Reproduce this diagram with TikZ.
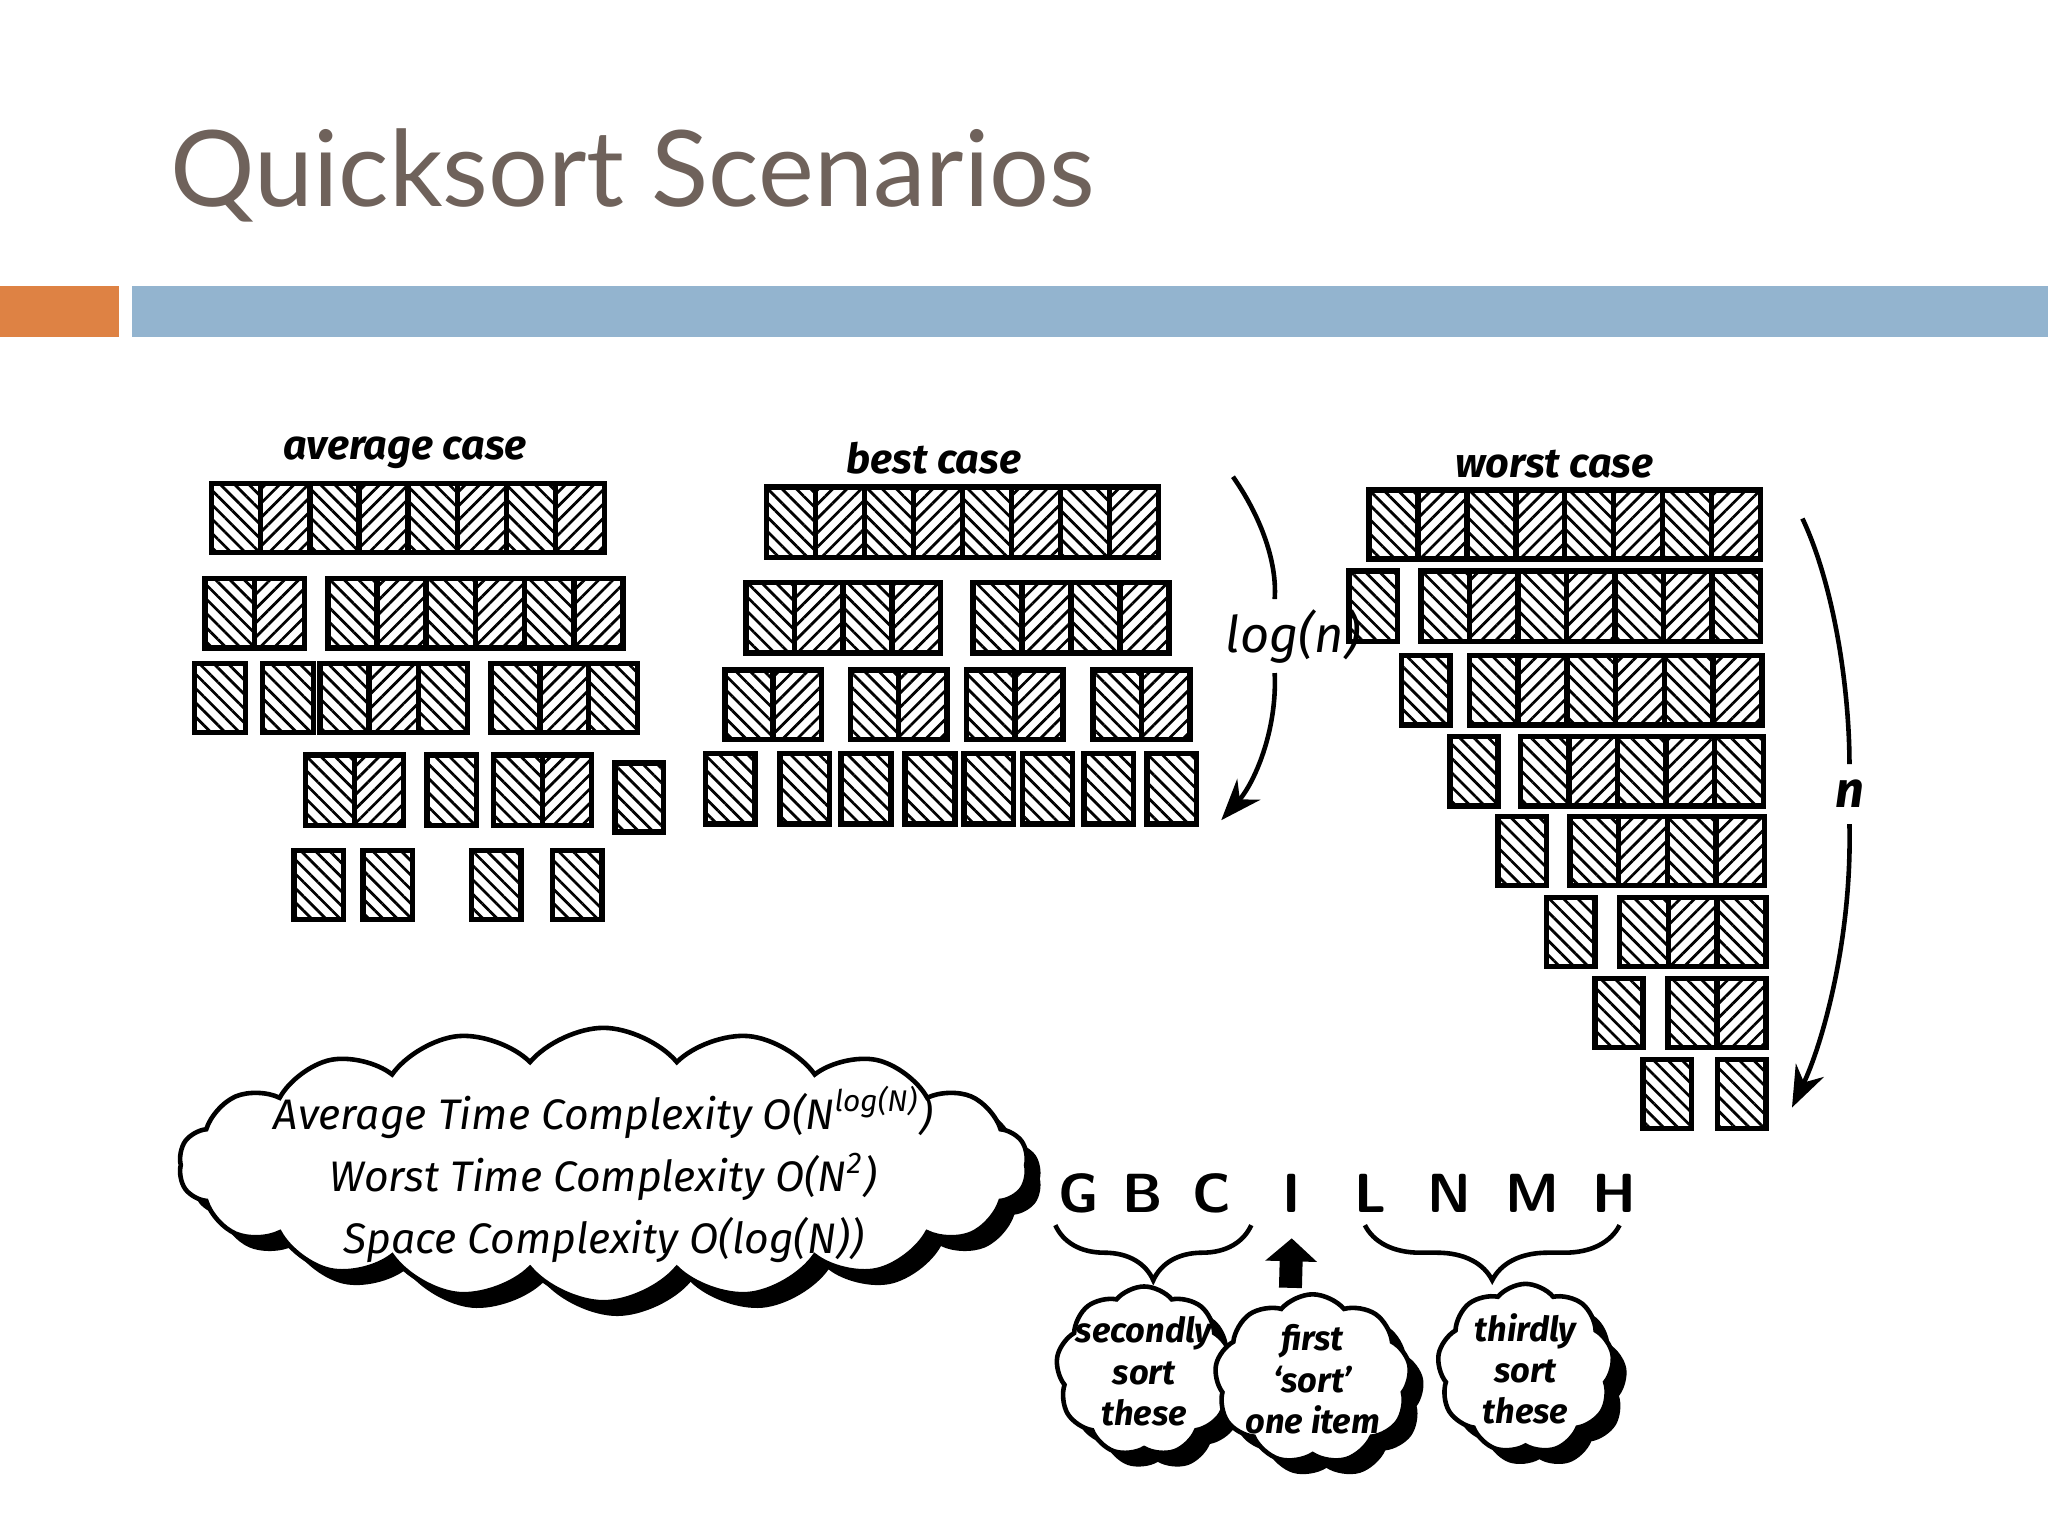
\documentclass[tikz,border=0pt]{standalone}
\usepackage{fontspec}
\setmainfont{Fira Sans}
\usetikzlibrary{patterns.meta,shapes.symbols,shadows,decorations.pathreplacing,arrows.meta}
\definecolor{titlec}{HTML}{6F625B}
\definecolor{orng}{HTML}{DE8244}
\definecolor{blu}{HTML}{93B4CF}
\newcommand\grp[5]{%
\foreach \i [evaluate=\i as \xa using #1+(\i-1)*(#2-#1)/#5, evaluate=\i as \xb using #1+\i*(#2-#1)/#5] in {1,...,#5}{%
\ifodd\i
\draw[line width=1.2pt,pattern={Lines[angle=-45,distance=2.2pt,line width=0.6pt]}] (\xa,#3) rectangle (\xb,#4);
\else
\draw[line width=1.2pt,pattern={Lines[angle=45,distance=2.2pt,line width=0.6pt]}] (\xa,#3) rectangle (\xb,#4);
\fi}}
\tikzset{lab/.style={font=\bfseries\itshape\fontsize{9}{11}\selectfont},
 cl/.style={cloud,cloud puffs=11,cloud puff arc=100,draw,line width=1pt,fill=white,drop shadow={shadow xshift=3pt,shadow yshift=-3pt,fill=black,opacity=1},inner sep=0pt},
 ct/.style={align=center,inner sep=0pt},
 let/.style={font=\bfseries\sffamily\fontsize{12}{14}\selectfont}}
\begin{document}
\begin{tikzpicture}[x=0.01cm,y=-0.01cm]
\useasboundingbox (0,0) rectangle (1568,1176);
\fill[white] (0,0) rectangle (1568,1176);
\node[anchor=base west,text=titlec,font=\fontsize{23}{28}\selectfont\fontspec{Lato}] (title) at (118,158) {Quicksort Scenarios};
\fill[orng] (0,219) rectangle (91,258);
\fill[blu] (101,219) rectangle (1568,258);
% average
\node[lab] (la) at (310,347) {average case};
\grp{162}{463}{370}{423}{8}
\grp{157}{233}{443}{496}{2}\grp{251}{477}{443}{496}{6}
\grp{149}{188}{508}{561}{1}\grp{201}{240}{508}{561}{1}\grp{245}{358}{508}{561}{3}\grp{376}{488}{508}{561}{3}
\grp{234}{309}{578}{632}{2}\grp{327}{365}{578}{632}{1}\grp{378}{453}{578}{632}{2}\grp{471}{508}{584}{637}{1}
\grp{225}{263}{651}{704}{1}\grp{278}{316}{651}{704}{1}\grp{361}{399}{651}{704}{1}\grp{423}{461}{651}{704}{1}
% best
\node[lab] (lb) at (715,351) {best case};
\grp{587}{887}{373}{427}{8}
\grp{571}{720}{446}{500}{4}\grp{745}{895}{446}{500}{4}
\grp{555}{629}{513}{566}{2}\grp{651}{725}{513}{566}{2}\grp{740}{814}{513}{566}{2}\grp{837}{911}{513}{566}{2}
\foreach \x in {540,597,644,693,738,783,830,878}{\grp{\x}{\x+38}{577}{631}{1}}
\node[font=\itshape\fontsize{11}{13}\selectfont,inner sep=2pt] (logn) at (990,487) {log(n)};
\coordinate (l1) at (944,365); \coordinate (l2) at (935,628);
\draw[line width=1pt] (l1) .. controls (965,395) and (978,430) .. ([xshift=-4pt]logn.north);
\draw[line width=1pt,-{Stealth[length=9pt]}] ([xshift=-4pt]logn.south) .. controls (978,560) and (960,600) .. (l2);
% worst
\node[lab] (lw) at (1190,355) {worst case};
\grp{1048}{1348}{375}{428}{8}
\grp{1033}{1070}{437}{491}{1}\grp{1088}{1348}{437}{491}{7}
\grp{1073}{1110}{502}{555}{1}\grp{1125}{1349}{502}{555}{6}
\grp{1110}{1147}{564}{617}{1}\grp{1164}{1350}{564}{617}{5}
\grp{1147}{1184}{625}{678}{1}\grp{1202}{1351}{625}{678}{4}
\grp{1184}{1221}{687}{740}{1}\grp{1240}{1352}{687}{740}{3}
\grp{1221}{1258}{749}{802}{1}\grp{1277}{1352}{749}{802}{2}
\grp{1258}{1295}{811}{864}{1}\grp{1315}{1352}{811}{864}{1}
\node[lab,font=\bfseries\itshape\fontsize{11}{13}\selectfont] (nl) at (1416,608) {n};
\coordinate (n1) at (1380,397); \coordinate (n2) at (1372,848);
\draw[line width=1pt] (n1) .. controls (1405,450) and (1416,530) .. (nl.north);
\draw[line width=1pt,-{Stealth[length=9pt]}] (nl.south) .. controls (1418,720) and (1395,800) .. (n2);
% big cloud
\node[cl,cloud puffs=18,cloud ignores aspect,minimum width=6.5cm,minimum height=2.1cm] (big) at (462,892) {};
\node[ct,font=\itshape\fontsize{9.3}{13.5}\selectfont] (bigt) at ([yshift=-2pt]big.center)
 {Average Time Complexity O(N\textsuperscript{log(N)})\\Worst Time Complexity O(N\textsuperscript{2})\\Space Complexity O(log(N))};
% letters
\foreach \t/\x in {G/826,B/875,C/928,I/989,L/1049,N/1110,M/1173,H/1236}{\node[let] (k\t) at (\x,914) {\t};}
\draw[line width=1pt,decorate,decoration={brace,mirror,amplitude=12pt}] (808,938) -- (958,938);
\draw[line width=1pt,decorate,decoration={brace,mirror,amplitude=12pt}] (1045,938) -- (1240,938);
\coordinate (ab) at (988,986);
\draw[line width=5pt,-{Triangle[length=5pt,width=11pt]}] (ab) -- ([yshift=-2pt]kI.south);
\foreach \n/\x/\y/\w/\t in {c1/876/1050/1.35/{secondly\\sort\\these},c2/1005/1056/1.5/{first\\`sort'\\one item},c3/1168/1048/1.35/{thirdly\\sort\\these}}{
\node[cl,cloud puffs=9,cloud ignores aspect,minimum width=\w cm,minimum height=1.3cm] (\n) at (\x,\y) {};
\node[ct,font=\bfseries\itshape\fontsize{7.5}{9}\selectfont] (\n t) at (\n.center) {\t};}
\end{tikzpicture}
\end{document}
